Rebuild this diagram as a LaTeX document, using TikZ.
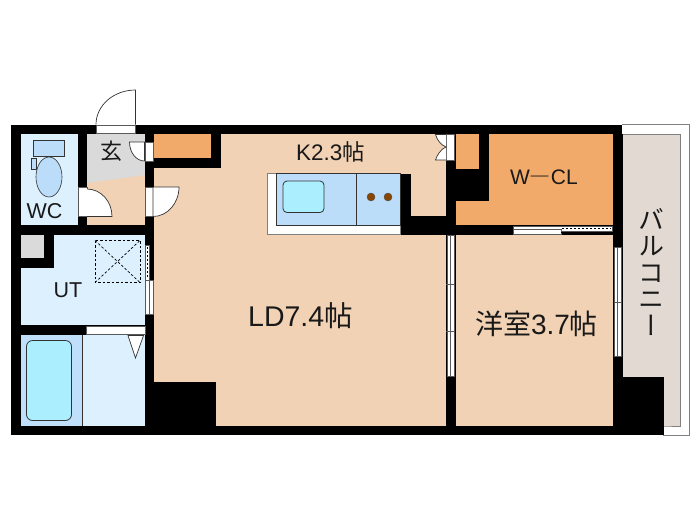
\documentclass[tikz,border=0pt]{standalone}
\usepackage{fontspec}
\setmainfont{Liberation Sans}
\newfontfamily\cjk{Noto Sans CJK JP}
\newfontfamily\cjkv[RawFeature={+vert}]{Noto Sans CJK JP}
\definecolor{floorc}{HTML}{F2D2B4}
\definecolor{closetc}{HTML}{F2AA6A}
\definecolor{wetc}{HTML}{DDF0FE}
\definecolor{bathc}{HTML}{BFDFFB}
\definecolor{tubc}{HTML}{ABEFFE}
\definecolor{stovec}{HTML}{BCDDF9}
\definecolor{entryc}{HTML}{DADADA}
\definecolor{balc}{HTML}{E2D9D2}
\definecolor{burnerc}{HTML}{8A4500}
\def\ldfloor{(154,134) rectangle (446,425.5)}
\def\rightfloor{(446,134) rectangle (613,425.5)}
\tikzset{
  wall/.style={fill=black,draw=none},
  sash/.style={fill=white,draw=gray!70!black,line width=0.5pt},
  leaf/.style={fill=white,draw=black!80,line width=0.7pt},
  fitting/.style={draw=black!80,line width=0.8pt},
  roomlabel/.style={inner sep=0pt,text=black!90}
}

\begin{document}
\begin{tikzpicture}[x=1pt,y=-1pt]
\useasboundingbox (0,0) rectangle (700,525);
\draw[gray,line width=0.6pt] (622,124.7) -- (689,124.7) -- (689,435) -- (663,435);
\draw[fill=balc,draw=gray,line width=0.8pt] (622,134.5) -- (680,134.5) -- (680,426) -- (663,426) -- (622,426) -- cycle;
\fill[floorc] \ldfloor;
\fill[floorc] \rightfloor;
\fill[floorc] (87,175) rectangle (145,225);
\fill[entryc] (87,134) -- (145,134) -- (145,175) -- (87,183) -- cycle;
\fill[closetc] (154,134) rectangle (211,158);
\fill[closetc] (455,134) rectangle (479,169);
\fill[closetc] (489,134) rectangle (613,225);
\fill[closetc] (455,201) rectangle (613,225);
\fill[wetc] (20,134) rectangle (78,225);
\fill[wetc] (20,234) rectangle (145,326);
\fill[entryc] (20,234) rectangle (44,258);
\fill[wetc] (83,335) rectangle (145,426);
\fill[bathc] (20,335) rectangle (82,426);
% walls
\fill[wall] (11,124.5) rectangle (622,134);
\fill[wall] (11,425.5) rectangle (663,435);
\fill[wall] (11,124.5) rectangle (20.5,435);
\fill[wall] (77.5,134) rectangle (87,225);
\fill[wall] (20,224.5) rectangle (154,234.5);
\fill[wall] (144.5,134) rectangle (154,435);
\fill[wall] (44,234) rectangle (53.5,268);
\fill[wall] (20,258) rectangle (53.5,268);
\fill[wall] (20,325) rectangle (145,335);
\fill[wall] (154,381.5) rectangle (215.5,426);
\fill[wall] (211,134) rectangle (221,168);
\fill[wall] (154,158) rectangle (221,168);
\fill[wall] (400.5,173.5) rectangle (410.5,234);
\fill[wall] (400.5,215.5) rectangle (455.5,234.5);
\fill[wall] (446,134) rectangle (455.5,425.5);
\fill[wall] (479,134) rectangle (489,201);
\fill[wall] (455,169) rectangle (489,201);
\fill[wall] (455,224.5) rectangle (622,234.5);
\fill[wall] (613,134) rectangle (622.5,435);
\fill[wall] (622,376.5) rectangle (663.5,435);
% kitchen
\draw[fill=white,draw=gray,line width=0.5pt] (267.5,173.5) rectangle (400.5,234.5);
\draw[fitting,fill=stovec] (276.5,173.5) rectangle (356,225);
\draw[fitting,fill=stovec] (356,173.5) rectangle (400.5,225);
\draw[fitting,fill=tubc,rounded corners=4pt] (283,181) rectangle (324,212.5);
\foreach \bx in {371,388}
  \draw[fill=burnerc,draw=black!70,line width=0.4pt] (\bx,197) circle (4);
% bath and washing place
\draw[fitting] (82,335) -- (82,426);
\draw[fitting,fill=tubc,rounded corners=6pt] (26.5,340.5) rectangle (71.5,420.5);
\draw[leaf] (128,335.5) -- (143.5,335.5) -- (135.5,358) -- cycle;
\draw[sash] (86.5,326) rectangle (145.5,334);
% toilet
\draw[fitting,fill=stovec,line width=0.6pt] (33.5,140.5) rectangle (64,156.5);
\draw[fitting,fill=stovec,line width=0.6pt] (31.5,158) rectangle (36.5,169.5);
\draw[fitting,fill=stovec,line width=0.6pt] (49,177) ellipse[x radius=13,y radius=20];
% washer pan
\draw[dashed,line width=0.9pt,dash pattern=on 2.5pt off 2pt] (95,240.5) rectangle (140,282.5);
\draw[dashed,line width=0.7pt,dash pattern=on 2.5pt off 2pt] (95,240.5) -- (140,282.5) (95,282.5) -- (140,240.5);
% openings
\draw[sash] (96,125) rectangle (135.5,133);
\draw[leaf] (96,124.5) arc[start angle=180,end angle=90,x radius=39.5,y radius=-34.5] -- (135.5,124.5);
\draw[sash] (78.5,187) rectangle (87,216.5);
\draw[leaf] (87,189) arc[start angle=90,end angle=0,x radius=25,y radius=-27.5] -- (87,216.5);
\draw[sash] (145,142) rectangle (153,161);
\draw[leaf] (144.5,142) -- (129.5,142) arc[start angle=180,end angle=270,x radius=15,y radius=-19] -- cycle;
\draw[sash] (145.5,187) rectangle (153,216.5);
\draw[leaf] (153,187) -- (179,187) arc[start angle=0,end angle=-90,x radius=26,y radius=-29.5] -- cycle;
\draw[sash] (446,134) rectangle (454,160);
\draw[leaf] (446,134.5) -- (435.5,134.5) .. controls (437,140) and (441,145) .. (446,147) .. controls (441,149) and (437,155) .. (435.5,160) -- (446,160);
% sliding doors
\draw[sash] (145,245) rectangle (149,284);
\draw[sash] (149,280) rectangle (153,314);
\draw[sash] (145,280) rectangle (149,314);
\draw[black,dash pattern=on 2pt off 2pt,line width=1pt] (147,247) -- (147,278);
\draw[sash] (447,235) rectangle (450.5,376.5);
\draw[sash] (450.5,235) rectangle (454.5,376.5);
\draw[gray!70!black,line width=0.6pt] (446,331) -- (455,331) (446,284) -- (455,284);
\draw[sash] (614,247) rectangle (617.5,356.5);
\draw[sash] (617.5,247) rectangle (621.5,356.5);
\draw[gray!70!black,line width=0.6pt] (613.5,302) -- (622,302);
\draw[sash] (513,226) rectangle (612,231);
\draw[sash] (513,229.5) rectangle (561,234);
\draw[black,line width=1.2pt] (561,232.5) -- (612,232.5);
\draw[black,dash pattern=on 2pt off 2pt,line width=0.8pt] (562,228) -- (611,228);
% labels
\node[roomlabel,font=\cjk\fontsize{22}{22}\selectfont] (lblgen) at (111.7,151.5) {玄};
\node[roomlabel,font=\fontsize{21.5}{21.5}\selectfont] (lblwc) at (44.5,211.5) {WC};
\node[roomlabel,font=\fontsize{21.5}{21.5}\selectfont] (lblut) at (68,290.5) {UT};
\node[roomlabel,font=\fontsize{22.5}{22.5}\selectfont] (lblk) at (330.5,152) {K2.3{\cjk 帖}};
\node[roomlabel,font=\fontsize{28.5}{28.5}\selectfont] (lblld) at (300.5,316) {LD7.4{\cjk 帖}};
\node[roomlabel,font=\fontsize{28}{28}\selectfont] (lblwest) at (536.5,324) {{\cjk 洋室}3.7{\cjk 帖}};
\node[roomlabel,font=\fontsize{21}{21}\selectfont] (lblcl) at (544,177) {W{\cjk ―}CL};
\node[roomlabel,font=\cjkv\fontsize{26}{26.5}\selectfont,align=center] (lblbal) at (651,272) {バ\\ル\\コ\\ニ\\ー};
\end{tikzpicture}
\end{document}
